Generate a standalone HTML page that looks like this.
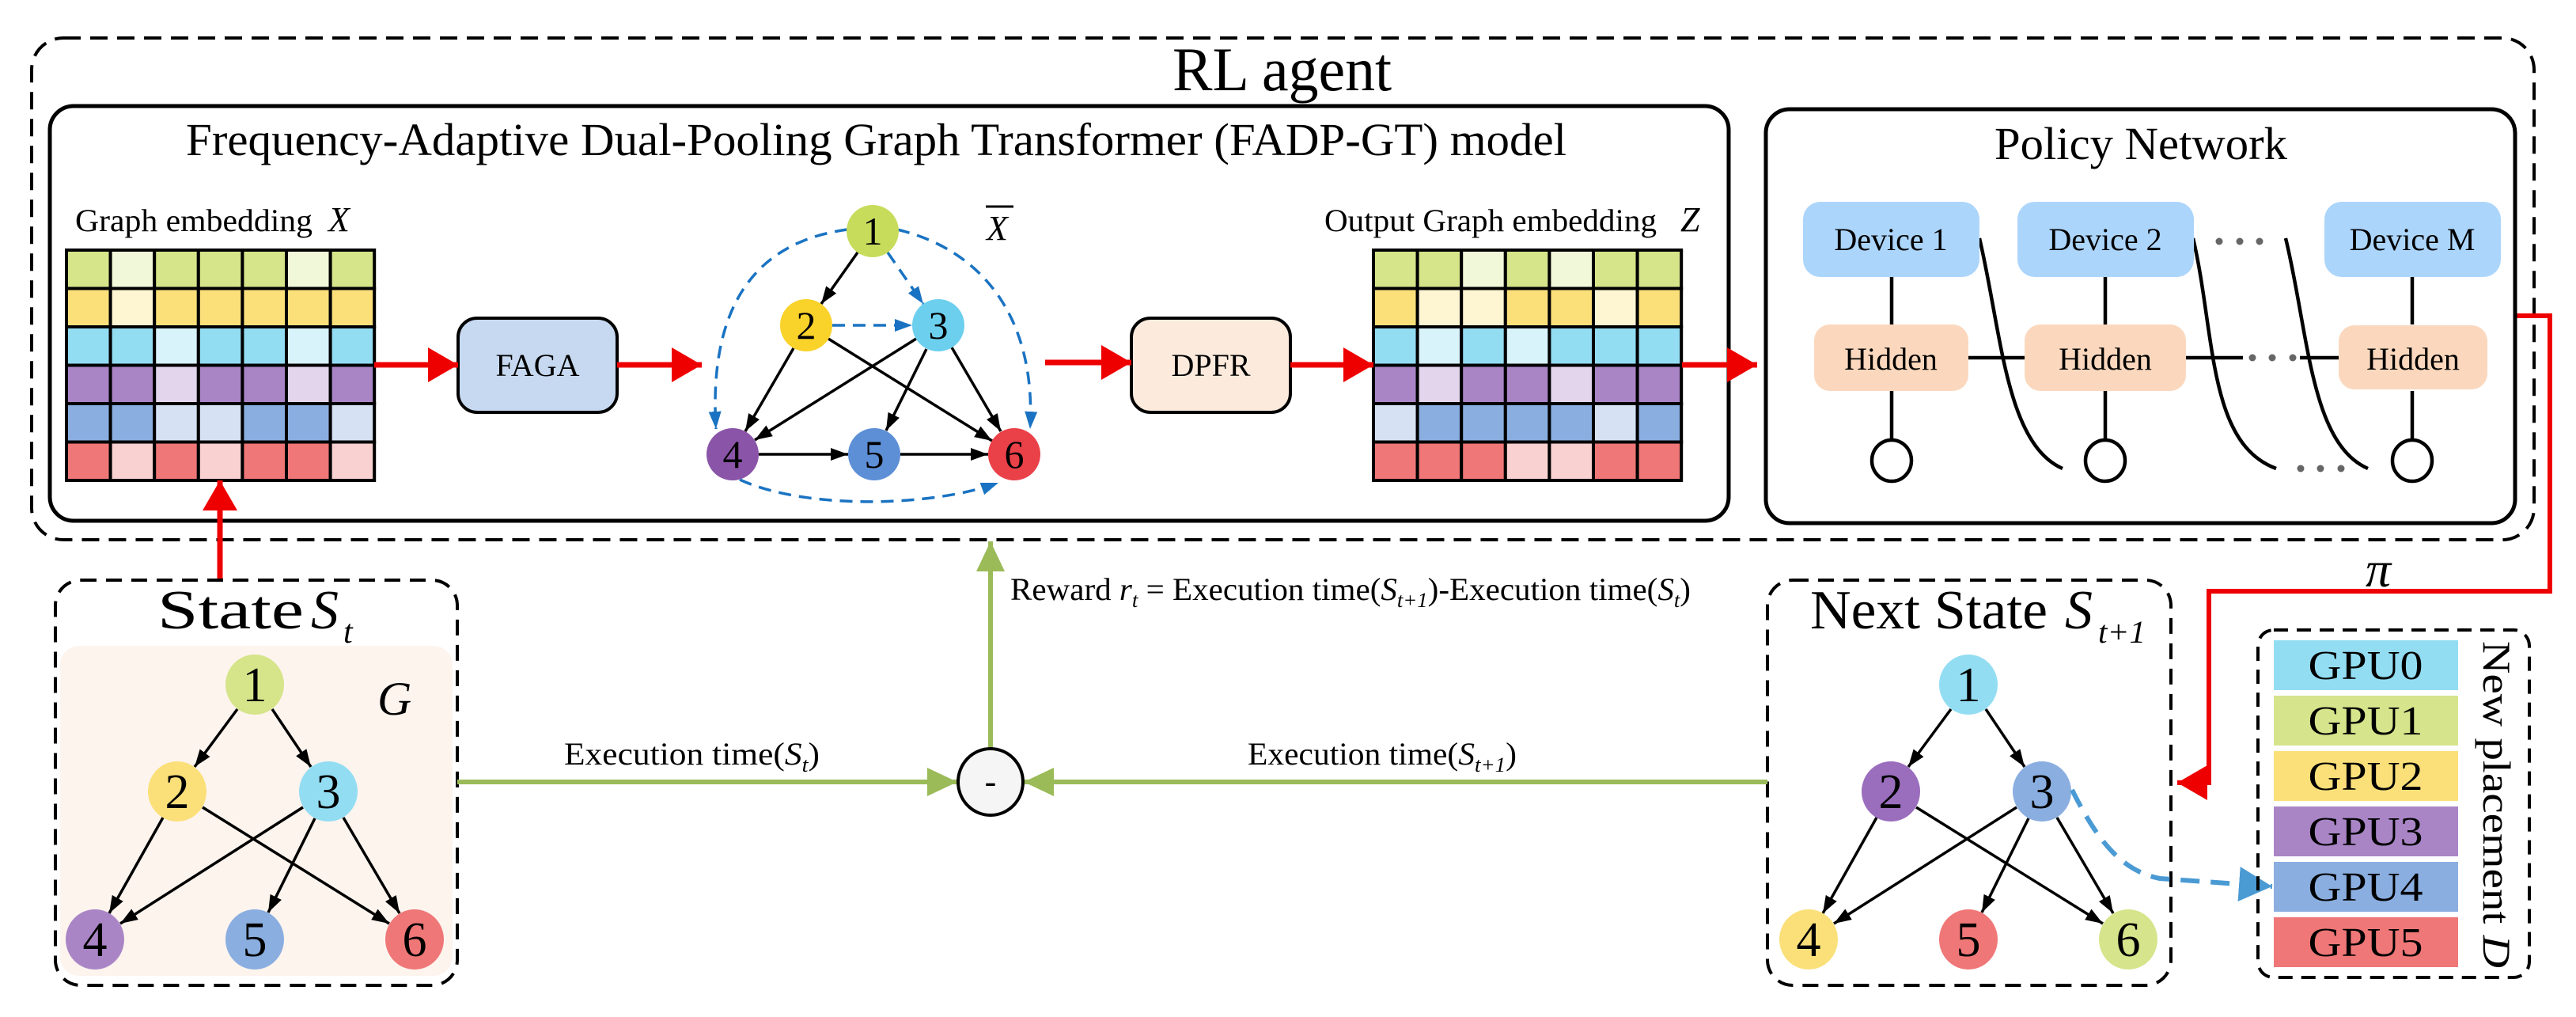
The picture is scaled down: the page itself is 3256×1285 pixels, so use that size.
<!DOCTYPE html>
<html><head><meta charset="utf-8"><style>html,body{margin:0;padding:0;background:#fff}svg{display:block}text{font-family:"Liberation Serif",serif;fill:#000}</style></head>
<body>
<svg width="3256" height="1285" viewBox="0 0 3256 1285" xmlns="http://www.w3.org/2000/svg">
<defs>
<marker id="ab" markerUnits="userSpaceOnUse" markerWidth="24" markerHeight="20" refX="22" refY="10" orient="auto"><path d="M0,2 L22,10 L0,18 Z" fill="#000"/></marker>
<marker id="abb" markerUnits="userSpaceOnUse" markerWidth="24" markerHeight="20" refX="22" refY="10" orient="auto"><path d="M0,2 L22,10 L0,18 Z" fill="#1a73c2"/></marker>
<marker id="ar" markerUnits="userSpaceOnUse" markerWidth="40" markerHeight="44" refX="38" refY="22" orient="auto"><path d="M0,0 L38,22 L0,44 Z" fill="#e00"/></marker>
<marker id="ag" markerUnits="userSpaceOnUse" markerWidth="40" markerHeight="36" refX="38" refY="18" orient="auto"><path d="M0,0 L38,18 L0,36 Z" fill="#9bbb59"/></marker>
<marker id="abl" markerUnits="userSpaceOnUse" markerWidth="44" markerHeight="44" refX="42" refY="22" orient="auto"><path d="M0,0 L42,22 L0,44 Z" fill="#4a9ad4"/></marker>
</defs>

<rect x="40" y="48" width="3163" height="634" rx="40" fill="none" stroke="#000" stroke-width="4" stroke-dasharray="22,12"/>
<text x="1482" y="114" font-size="78" textLength="277" lengthAdjust="spacingAndGlyphs">RL agent</text>

<rect x="63" y="134" width="2122" height="524" rx="30" fill="none" stroke="#000" stroke-width="5"/>
<text x="235" y="196" font-size="58" textLength="1745" lengthAdjust="spacingAndGlyphs">Frequency-Adaptive Dual-Pooling Graph Transformer (FADP-GT) model</text>

<text x="95" y="292" font-size="40" textLength="300" lengthAdjust="spacingAndGlyphs">Graph embedding</text>
<text x="415" y="292" font-size="44" font-style="italic">X</text>

<g stroke="#000" stroke-width="4">
<g>
<rect x="84" y="316" width="55.6" height="48.5" fill="#d6e48a"/><rect x="139.6" y="316" width="55.6" height="48.5" fill="#f1f7d9"/><rect x="195.2" y="316" width="55.6" height="48.5" fill="#d6e48a"/><rect x="250.8" y="316" width="55.6" height="48.5" fill="#d6e48a"/><rect x="306.4" y="316" width="55.6" height="48.5" fill="#d6e48a"/><rect x="362" y="316" width="55.6" height="48.5" fill="#f1f7d9"/><rect x="417.6" y="316" width="55.6" height="48.5" fill="#d6e48a"/>
<rect x="84" y="364.5" width="55.6" height="48.5" fill="#fbe07a"/><rect x="139.6" y="364.5" width="55.6" height="48.5" fill="#fef5d2"/><rect x="195.2" y="364.5" width="55.6" height="48.5" fill="#fbe07a"/><rect x="250.8" y="364.5" width="55.6" height="48.5" fill="#fbe07a"/><rect x="306.4" y="364.5" width="55.6" height="48.5" fill="#fbe07a"/><rect x="362" y="364.5" width="55.6" height="48.5" fill="#fbe07a"/><rect x="417.6" y="364.5" width="55.6" height="48.5" fill="#fbe07a"/>
<rect x="84" y="413" width="55.6" height="48.5" fill="#93ddf3"/><rect x="139.6" y="413" width="55.6" height="48.5" fill="#93ddf3"/><rect x="195.2" y="413" width="55.6" height="48.5" fill="#d9f3fb"/><rect x="250.8" y="413" width="55.6" height="48.5" fill="#93ddf3"/><rect x="306.4" y="413" width="55.6" height="48.5" fill="#93ddf3"/><rect x="362" y="413" width="55.6" height="48.5" fill="#d9f3fb"/><rect x="417.6" y="413" width="55.6" height="48.5" fill="#93ddf3"/>
<rect x="84" y="461.5" width="55.6" height="48.5" fill="#a985c6"/><rect x="139.6" y="461.5" width="55.6" height="48.5" fill="#a985c6"/><rect x="195.2" y="461.5" width="55.6" height="48.5" fill="#e3d5ec"/><rect x="250.8" y="461.5" width="55.6" height="48.5" fill="#a985c6"/><rect x="306.4" y="461.5" width="55.6" height="48.5" fill="#a985c6"/><rect x="362" y="461.5" width="55.6" height="48.5" fill="#e3d5ec"/><rect x="417.6" y="461.5" width="55.6" height="48.5" fill="#a985c6"/>
<rect x="84" y="510" width="55.6" height="48.5" fill="#8aaee0"/><rect x="139.6" y="510" width="55.6" height="48.5" fill="#8aaee0"/><rect x="195.2" y="510" width="55.6" height="48.5" fill="#d6e2f4"/><rect x="250.8" y="510" width="55.6" height="48.5" fill="#d6e2f4"/><rect x="306.4" y="510" width="55.6" height="48.5" fill="#8aaee0"/><rect x="362" y="510" width="55.6" height="48.5" fill="#8aaee0"/><rect x="417.6" y="510" width="55.6" height="48.5" fill="#d6e2f4"/>
<rect x="84" y="558.5" width="55.6" height="48.5" fill="#f07777"/><rect x="139.6" y="558.5" width="55.6" height="48.5" fill="#f9d1d1"/><rect x="195.2" y="558.5" width="55.6" height="48.5" fill="#f07777"/><rect x="250.8" y="558.5" width="55.6" height="48.5" fill="#f9d1d1"/><rect x="306.4" y="558.5" width="55.6" height="48.5" fill="#f07777"/><rect x="362" y="558.5" width="55.6" height="48.5" fill="#f07777"/><rect x="417.6" y="558.5" width="55.6" height="48.5" fill="#f9d1d1"/>
</g>
<g transform="translate(1652,0)">
<rect x="84" y="316" width="55.6" height="48.5" fill="#d6e48a"/><rect x="139.6" y="316" width="55.6" height="48.5" fill="#d6e48a"/><rect x="195.2" y="316" width="55.6" height="48.5" fill="#f1f7d9"/><rect x="250.8" y="316" width="55.6" height="48.5" fill="#d6e48a"/><rect x="306.4" y="316" width="55.6" height="48.5" fill="#f1f7d9"/><rect x="362" y="316" width="55.6" height="48.5" fill="#d6e48a"/><rect x="417.6" y="316" width="55.6" height="48.5" fill="#d6e48a"/>
<rect x="84" y="364.5" width="55.6" height="48.5" fill="#fbe07a"/><rect x="139.6" y="364.5" width="55.6" height="48.5" fill="#fef5d2"/><rect x="195.2" y="364.5" width="55.6" height="48.5" fill="#fef5d2"/><rect x="250.8" y="364.5" width="55.6" height="48.5" fill="#fbe07a"/><rect x="306.4" y="364.5" width="55.6" height="48.5" fill="#fbe07a"/><rect x="362" y="364.5" width="55.6" height="48.5" fill="#fef5d2"/><rect x="417.6" y="364.5" width="55.6" height="48.5" fill="#fbe07a"/>
<rect x="84" y="413" width="55.6" height="48.5" fill="#93ddf3"/><rect x="139.6" y="413" width="55.6" height="48.5" fill="#d9f3fb"/><rect x="195.2" y="413" width="55.6" height="48.5" fill="#93ddf3"/><rect x="250.8" y="413" width="55.6" height="48.5" fill="#d9f3fb"/><rect x="306.4" y="413" width="55.6" height="48.5" fill="#93ddf3"/><rect x="362" y="413" width="55.6" height="48.5" fill="#93ddf3"/><rect x="417.6" y="413" width="55.6" height="48.5" fill="#93ddf3"/>
<rect x="84" y="461.5" width="55.6" height="48.5" fill="#a985c6"/><rect x="139.6" y="461.5" width="55.6" height="48.5" fill="#e3d5ec"/><rect x="195.2" y="461.5" width="55.6" height="48.5" fill="#a985c6"/><rect x="250.8" y="461.5" width="55.6" height="48.5" fill="#a985c6"/><rect x="306.4" y="461.5" width="55.6" height="48.5" fill="#e3d5ec"/><rect x="362" y="461.5" width="55.6" height="48.5" fill="#a985c6"/><rect x="417.6" y="461.5" width="55.6" height="48.5" fill="#a985c6"/>
<rect x="84" y="510" width="55.6" height="48.5" fill="#d6e2f4"/><rect x="139.6" y="510" width="55.6" height="48.5" fill="#8aaee0"/><rect x="195.2" y="510" width="55.6" height="48.5" fill="#8aaee0"/><rect x="250.8" y="510" width="55.6" height="48.5" fill="#8aaee0"/><rect x="306.4" y="510" width="55.6" height="48.5" fill="#8aaee0"/><rect x="362" y="510" width="55.6" height="48.5" fill="#d6e2f4"/><rect x="417.6" y="510" width="55.6" height="48.5" fill="#8aaee0"/>
<rect x="84" y="558.5" width="55.6" height="48.5" fill="#f07777"/><rect x="139.6" y="558.5" width="55.6" height="48.5" fill="#f07777"/><rect x="195.2" y="558.5" width="55.6" height="48.5" fill="#f07777"/><rect x="250.8" y="558.5" width="55.6" height="48.5" fill="#f9d1d1"/><rect x="306.4" y="558.5" width="55.6" height="48.5" fill="#f9d1d1"/><rect x="362" y="558.5" width="55.6" height="48.5" fill="#f07777"/><rect x="417.6" y="558.5" width="55.6" height="48.5" fill="#f07777"/>
</g>
</g>
<text x="1674" y="292" font-size="40" textLength="420" lengthAdjust="spacingAndGlyphs">Output Graph embedding</text>
<text x="2124" y="292" font-size="44" font-style="italic">Z</text>

<rect x="579" y="402" width="201" height="119" rx="24" fill="#c6d9f0" stroke="#000" stroke-width="4"/>
<text x="679.5" y="475" font-size="40" text-anchor="middle">FAGA</text>
<rect x="1430" y="402" width="201" height="119" rx="24" fill="#fcebdd" stroke="#000" stroke-width="4"/>
<text x="1530.5" y="475" font-size="40" text-anchor="middle">DPFR</text>

<g stroke="#e00" stroke-width="7" fill="none">
<line x1="473" y1="461" x2="579" y2="461" marker-end="url(#ar)"/>
<line x1="780" y1="461" x2="887" y2="461" marker-end="url(#ar)"/>
<line x1="1321" y1="458" x2="1430" y2="458" marker-end="url(#ar)"/>
<line x1="1631" y1="461" x2="1736" y2="461" marker-end="url(#ar)"/>
<line x1="2126" y1="461" x2="2221" y2="461" marker-end="url(#ar)"/>
<line x1="278" y1="733" x2="278" y2="607" marker-end="url(#ar)"/>
</g>
<polyline points="3179,399 3223,399 3223,747 2792,747 2792,989 2752,989" fill="none" stroke="#e00" stroke-width="6" marker-end="url(#ar)"/>

<g fill="none" stroke-width="3.5">
<g stroke="#000">
<line x1="1084" y1="319" x2="1038" y2="384" marker-end="url(#ab)"/>
<line x1="1003" y1="440" x2="942" y2="545" marker-end="url(#ab)"/>
<line x1="1047" y1="428" x2="1254" y2="557" marker-end="url(#ab)"/>
<line x1="1158" y1="428" x2="954" y2="556" marker-end="url(#ab)"/>
<line x1="1171" y1="441" x2="1120" y2="544" marker-end="url(#ab)"/>
<line x1="1203" y1="439" x2="1265" y2="545" marker-end="url(#ab)"/>
<line x1="959" y1="574" x2="1072" y2="574" marker-end="url(#ab)"/>
<line x1="1138" y1="574" x2="1249" y2="574" marker-end="url(#ab)"/>
</g>
<g stroke="#1a73c2" stroke-dasharray="16,10">
<line x1="1052" y1="411" x2="1153" y2="411" marker-end="url(#abb)"/>
<line x1="1122" y1="319" x2="1167" y2="384" marker-end="url(#abb)"/>
<path d="M1071,290 C960,305 895,380 905,542" marker-end="url(#abb)"/>
<path d="M1134,290 C1240,315 1310,400 1302,542" marker-end="url(#abb)"/>
<path d="M935,606 C1020,645 1180,640 1262,610" marker-end="url(#abb)"/>
</g>
</g>
<g font-size="50" text-anchor="middle">
<circle cx="1103" cy="292" r="33" fill="#c8dc5c"/><text x="1103" y="309">1</text>
<circle cx="1019" cy="411" r="33" fill="#f9d22a"/><text x="1019" y="428">2</text>
<circle cx="1186" cy="411" r="33" fill="#6dcfee"/><text x="1186" y="428">3</text>
<circle cx="926" cy="574" r="33" fill="#8a55a8"/><text x="926" y="591">4</text>
<circle cx="1105" cy="574" r="33" fill="#5d8fd6"/><text x="1105" y="591">5</text>
<circle cx="1282" cy="574" r="33" fill="#ea4149"/><text x="1282" y="591">6</text>
</g>
<text x="1247" y="303" font-size="44" font-style="italic">X</text>
<line x1="1246" y1="261" x2="1281" y2="261" stroke="#000" stroke-width="3"/>

<rect x="2232" y="138" width="947" height="523" rx="30" fill="none" stroke="#000" stroke-width="5"/>
<text x="2521" y="201" font-size="58" textLength="370" lengthAdjust="spacingAndGlyphs">Policy Network</text>
<g stroke="#000" stroke-width="4.5" fill="none">
<line x1="2391" y1="350" x2="2391" y2="410"/><line x1="2661" y1="350" x2="2661" y2="410"/><line x1="3049" y1="350" x2="3049" y2="410"/>
<line x1="2391" y1="494" x2="2391" y2="555"/><line x1="2661" y1="494" x2="2661" y2="555"/><line x1="3049" y1="494" x2="3049" y2="555"/>
<line x1="2488" y1="452" x2="2561" y2="452"/><line x1="2761" y1="452" x2="2835" y2="452"/><line x1="2907" y1="452" x2="2956" y2="452"/>
<ellipse cx="2391" cy="582" rx="25" ry="26"/><ellipse cx="2661" cy="582" rx="25" ry="26"/><ellipse cx="3049" cy="582" rx="25" ry="26"/>
<path d="M2502,301 C2530,420 2535,560 2607,592"/>
<path d="M2772,301 C2800,420 2790,560 2877,592"/>
<path d="M2889,301 C2918,420 2920,560 2993,592"/>
</g>
<g fill="#666">
<circle cx="2805" cy="305" r="4.5"/><circle cx="2831" cy="305" r="4.5"/><circle cx="2856" cy="305" r="4.5"/>
<circle cx="2847" cy="452" r="4.5"/><circle cx="2872" cy="452" r="4.5"/><circle cx="2898" cy="452" r="4.5"/>
<circle cx="2908" cy="592" r="4.5"/><circle cx="2933" cy="592" r="4.5"/><circle cx="2959" cy="592" r="4.5"/>
</g>
<g font-size="40" text-anchor="middle">
<rect x="2279" y="255" width="223" height="95" rx="22" fill="#acd5fb"/><text x="2390" y="316">Device 1</text>
<rect x="2550" y="255" width="223" height="95" rx="22" fill="#acd5fb"/><text x="2661" y="316">Device 2</text>
<rect x="2938" y="255" width="223" height="95" rx="22" fill="#acd5fb"/><text x="3049" y="316">Device M</text>
<rect x="2293" y="410" width="195" height="84" rx="20" fill="#fbd8bd"/><text x="2390" y="467">Hidden</text>
<rect x="2559" y="410" width="204" height="84" rx="20" fill="#fbd8bd"/><text x="2661" y="467">Hidden</text>
<rect x="2956" y="411" width="188" height="81" rx="20" fill="#fbd8bd"/><text x="3050" y="467">Hidden</text>
</g>

<rect x="70" y="733" width="508" height="512" rx="32" fill="none" stroke="#000" stroke-width="4" stroke-dasharray="20,12"/>
<rect x="76" y="816" width="496" height="417" rx="24" fill="#fdf4ee"/>
<text x="199" y="794" font-size="70" textLength="185" lengthAdjust="spacingAndGlyphs">State</text>
<text x="393" y="794" font-size="70" font-style="italic">S</text>
<text x="434" y="812" font-size="42" font-style="italic">t</text>
<text x="477" y="903" font-size="60" font-style="italic">G</text>

<rect x="2234" y="733" width="510" height="512" rx="32" fill="none" stroke="#000" stroke-width="4" stroke-dasharray="20,12"/>
<text x="2288" y="794" font-size="70" textLength="300" lengthAdjust="spacingAndGlyphs">Next State</text>
<text x="2610" y="794" font-size="70" font-style="italic">S</text>
<text x="2652" y="812" font-size="40" font-style="italic" textLength="60" lengthAdjust="spacingAndGlyphs">t+1</text>

<g stroke="#000" stroke-width="3.5" fill="none">
<line x1="300" y1="896" x2="246" y2="969" marker-end="url(#ab)"/>
<line x1="344" y1="896" x2="393" y2="969" marker-end="url(#ab)"/>
<line x1="206" y1="1033" x2="138" y2="1154" marker-end="url(#ab)"/>
<line x1="256" y1="1020" x2="492" y2="1167" marker-end="url(#ab)"/>
<line x1="383" y1="1020" x2="152" y2="1167" marker-end="url(#ab)"/>
<line x1="398" y1="1034" x2="339" y2="1153" marker-end="url(#ab)"/>
<line x1="434" y1="1033" x2="505" y2="1154" marker-end="url(#ab)"/>
</g>
<g transform="translate(2166,0)" stroke="#000" stroke-width="3.5" fill="none">
<line x1="300" y1="896" x2="246" y2="969" marker-end="url(#ab)"/>
<line x1="344" y1="896" x2="393" y2="969" marker-end="url(#ab)"/>
<line x1="206" y1="1033" x2="138" y2="1154" marker-end="url(#ab)"/>
<line x1="256" y1="1020" x2="492" y2="1167" marker-end="url(#ab)"/>
<line x1="383" y1="1020" x2="152" y2="1167" marker-end="url(#ab)"/>
<line x1="398" y1="1034" x2="339" y2="1153" marker-end="url(#ab)"/>
<line x1="434" y1="1033" x2="505" y2="1154" marker-end="url(#ab)"/>
</g>
<g font-size="62" text-anchor="middle">
<ellipse cx="322" cy="865" rx="37" ry="38" fill="#d6e48a"/><text x="322" y="886">1</text>
<ellipse cx="224" cy="1000" rx="37" ry="38" fill="#fbe07a"/><text x="224" y="1021">2</text>
<ellipse cx="415" cy="1000" rx="37" ry="38" fill="#93ddf3"/><text x="415" y="1021">3</text>
<ellipse cx="120" cy="1187" rx="37" ry="38" fill="#a985c6"/><text x="120" y="1208">4</text>
<ellipse cx="322" cy="1187" rx="37" ry="38" fill="#8aaee0"/><text x="322" y="1208">5</text>
<ellipse cx="524" cy="1187" rx="37" ry="38" fill="#f07777"/><text x="524" y="1208">6</text>
<ellipse cx="2488" cy="865" rx="37" ry="38" fill="#93ddf3"/><text x="2488" y="886">1</text>
<ellipse cx="2390" cy="1000" rx="37" ry="38" fill="#9a6dbd"/><text x="2390" y="1021">2</text>
<ellipse cx="2581" cy="1000" rx="37" ry="38" fill="#8aaee0"/><text x="2581" y="1021">3</text>
<ellipse cx="2286" cy="1187" rx="37" ry="38" fill="#fbe07a"/><text x="2286" y="1208">4</text>
<ellipse cx="2488" cy="1187" rx="37" ry="38" fill="#f07777"/><text x="2488" y="1208">5</text>
<ellipse cx="2690" cy="1187" rx="37" ry="38" fill="#d6e48c"/><text x="2690" y="1208">6</text>
</g>
<path d="M2619,998 C2650,1060 2680,1100 2730,1110 L2872,1120" fill="none" stroke="#4a9ad4" stroke-width="6" stroke-dasharray="24,14" marker-end="url(#abl)"/>

<g stroke="#9bbb59" stroke-width="6" fill="none">
<line x1="578" y1="988" x2="1210" y2="988" marker-end="url(#ag)"/>
<line x1="2234" y1="988" x2="1294" y2="988" marker-end="url(#ag)"/>
<line x1="1252" y1="946" x2="1252" y2="684" marker-end="url(#ag)"/>
</g>
<ellipse cx="1252" cy="988" rx="41" ry="42" fill="#f5f5f5" stroke="#000" stroke-width="4"/>
<text x="1252" y="1002" font-size="44" text-anchor="middle">-</text>

<text x="713" y="966" font-size="40" textLength="323" lengthAdjust="spacingAndGlyphs">Execution time(<tspan font-style="italic">S</tspan><tspan font-style="italic" font-size="26" dy="9">t</tspan><tspan dy="-9">)</tspan></text>
<text x="1577" y="966" font-size="40" textLength="561" lengthAdjust="spacingAndGlyphs" style="display:none"></text>
<text x="1577" y="966" font-size="40" textLength="340" lengthAdjust="spacingAndGlyphs">Execution time(<tspan font-style="italic">S</tspan><tspan font-style="italic" font-size="26" dy="9">t+1</tspan><tspan dy="-9">)</tspan></text>

<text x="1277" y="758" font-size="40" textLength="860" lengthAdjust="spacingAndGlyphs">Reward <tspan font-style="italic">r</tspan><tspan font-style="italic" font-size="26" dy="9">t</tspan><tspan dy="-9"> = Execution time(</tspan><tspan font-style="italic">S</tspan><tspan font-style="italic" font-size="26" dy="9">t+1</tspan><tspan dy="-9">)-Execution time(</tspan><tspan font-style="italic">S</tspan><tspan font-style="italic" font-size="26" dy="9">t</tspan><tspan dy="-9">)</tspan></text>

<text x="2990" y="741" font-size="64" font-style="italic">π</text>

<rect x="2854" y="796" width="343" height="439" rx="20" fill="none" stroke="#000" stroke-width="4" stroke-dasharray="18,11"/>
<g font-size="52" text-anchor="middle">
<rect x="2874" y="809" width="233" height="63" fill="#93ddf3"/><text x="2990" y="858" textLength="145" lengthAdjust="spacingAndGlyphs">GPU0</text>
<rect x="2874" y="879" width="233" height="63" fill="#d6e48c"/><text x="2990" y="928" textLength="145" lengthAdjust="spacingAndGlyphs">GPU1</text>
<rect x="2874" y="949" width="233" height="63" fill="#fbe07a"/><text x="2990" y="998" textLength="145" lengthAdjust="spacingAndGlyphs">GPU2</text>
<rect x="2874" y="1019" width="233" height="63" fill="#a985c6"/><text x="2990" y="1068" textLength="145" lengthAdjust="spacingAndGlyphs">GPU3</text>
<rect x="2874" y="1089" width="233" height="63" fill="#8aaee0"/><text x="2990" y="1138" textLength="145" lengthAdjust="spacingAndGlyphs">GPU4</text>
<rect x="2874" y="1159" width="233" height="63" fill="#f07777"/><text x="2990" y="1208" textLength="145" lengthAdjust="spacingAndGlyphs">GPU5</text>
</g>
<text transform="translate(3139,810) rotate(90)" font-size="50" textLength="413" lengthAdjust="spacingAndGlyphs">New placement <tspan font-style="italic">D</tspan></text>
</svg>
</body></html>
